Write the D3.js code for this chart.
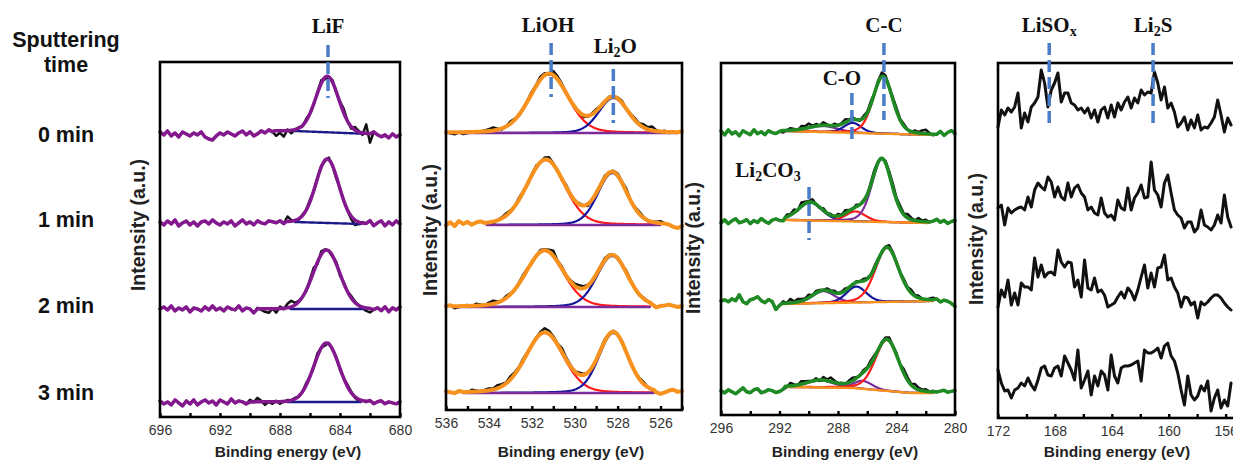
<!DOCTYPE html>
<html>
<head>
<meta charset="utf-8">
<script src="https://cdn.jsdelivr.net/npm/d3@7"></script>
<style>
  body { margin: 0; background: #fff; }
  svg { display: block; }
</style>
</head>
<body>
<div id="chart"></div>
<script>
// ---------- data ----------
const rowLabels = ["0 min", "1 min", "2 min", "3 min"];

// F 1s  (grid 696 -> 680, 0.25 eV)
const f1sTicks = [696, 694, 692, 690, 688, 686, 684, 682, 680];
const f1sTickLabels = [696, 692, 688, 684, 680];
const f1sBase = [283, 194, 108, 15];
const f1sPeaks = [
  [{c: 684.85, h: 56, w: 1.8}],
  [{c: 684.85, h: 64, w: 1.8}],
  [{c: 684.9, h: 59, w: 2.1}],
  [{c: 684.9, h: 59, w: 2.0}]
];
const f1sBg = [
  [[687.0, 3], [682.0, 0]],
  [[687.0, 1], [682.6, -1]],
  [[687.3, 0], [682.2, 0]],
  [[687.5, 0], [682.6, 0]]
];
const f1sWin = [[688.4, 682.0], [687.6, 682.4], [689.5, 682.0], [690.0, 682.2]];
const f1sNoise = [
  [2,-1,3,-2,1,-3,2,0,-2,1,-1,2,-3,-5,-6,-2, 1,-1,2,0,-2,1,3,-1,2,-2,0,3,1,4,2, -5,-2,-6,1,-3, 0,1,-1,2,0,-1,1,3,-2,0,2,-1,1,4,0,-2,3, 1,-2,9,-9,2,-1, -3,-1,-4,0,-3,-1],
  [1,-2,2,-1,3,-3,0,2,-2,1,-3,1,2,-1,3,0, -2,1,-1,2,-3,0,3,-1,1,-2,2,0,-1,2,1, 0,2,-1,5,1, 0,-1,1,0,2,-1,0,1,-1,2,0,-2,1,0,-1,-3,-5, -2,1,-1,2,-3,0, 2,-3,1,-2,2,-1],
  [0,2,-1,3,-2,1,-1,2,-3,1,0,-2,2,-1,3,-1, 1,-2,2,0,-1,3,-2,1,0,-4,1,-1,-3,-4,0, -4,2,-1,4,6, 2,1,0,-1,2,4,-2,3,1,0,-1,2,-2,1,0,2,1, 0,-1,-3,-4,-1,1, -2,2,-3,1,-1,2],
  [1,-2,0,-3,2,-1,-4,1,-2,2,-3,0,2,-1,1,-3, 2,0,-2,3,-1,1,0,-2,2,0,4,1,-3,0,-2, 1,-2,0,1,0, 1,-1,0,2,0,-1,3,0,-2,1,0,1,-1,0,2,1,-1, -2,0,-1,1,-2,0, 1,-2,0,-1,-2,0]
];

// O 1s  (grid 536 -> 525, 0.2 eV) : LiOH, Li2O
const o1sTicks = [536, 535, 534, 533, 532, 531, 530, 529, 528, 527, 526, 525];
const o1sTickLabels = [536, 534, 532, 530, 528, 526];
const o1sBase = [277, 185, 103, 17];
const o1sPeaks = [
  [{c: 531.2, h: 59, w: 2.1}, {c: 528.2, h: 35, w: 1.6}],
  [{c: 531.35, h: 65, w: 2.1}, {c: 528.25, h: 52, w: 1.6}],
  [{c: 531.4, h: 56, w: 2.1}, {c: 528.25, h: 51, w: 1.7}],
  [{c: 531.4, h: 60, w: 2.1}, {c: 528.2, h: 60, w: 1.6}]
];
const o1sBg = [
  [[535.8, 0], [525.2, 0]],
  [[534.1, 0], [526.0, 0]],
  [[535.7, 0], [526.5, 0]],
  [[535.2, 0], [526.3, 0]]
];
const o1sNoise = [
  [0,-1,-2,0,-2,-1,0,-1,0,1, 2,3,1,-1,0,2,1,-1,0,1, 2,1,3,2,-1,4,3,2,1,0, -1,0,-2,-1,1,2,0,-1,1,0, 1,2,0,1,2,1,3,2,4,1, 0,1,-1,0,0,1],
  [-1,2,-2,3,0,2,-1,1,2,0, -1,-2,0,1,2,1,0,2,1,-1, 1,2,0,2,3,1,0,-1,2,0, -1,1,0,-2,-1,0,1,2,0,1, 2,1,3,0,1,2,1,-1,0,1, 2,0,-1,-3,-4,-2],
  [0,1,-2,-1,0,1,-1,2,1,0, 2,3,1,0,2,1,-1,1,2,1, -1,0,2,1,2,5,1,2,0,1, 2,3,2,1,-1,0,1,2,1,0, 1,0,2,1,0,-1,1,0,-1,-3, -1,0,1,0,-1,0],
  [1,0,-1,1,0,-1,2,1,0,1, 2,1,3,2,1,3,2,1,2,1, 0,1,2,4,3,2,1,4,2,1, 0,2,1,0,-1,0,1,2,0,1, 0,1,0,-1,0,1,2,0,-1,-2, -3,-1,1,2,0,1]
];

// C 1s  (grid 296 -> 280, 0.25 eV)
const c1sTicks = [296, 294, 292, 290, 288, 286, 284, 282, 280];
const c1sTickLabels = [296, 292, 288, 284, 280];
const c1sBase = [282, 193, 114, 23];
const c1sPeaks = [
  [{c: 289.0, h: 6, w: 2.4}, {c: 287.0, h: 10, w: 1.4}, {c: 284.93, h: 57, w: 1.6}],
  [{c: 289.9, h: 18, w: 1.9}, {c: 286.8, h: 10, w: 1.6}, {c: 285.0, h: 63, w: 1.6}],
  [{c: 289.0, h: 12, w: 1.8}, {c: 286.75, h: 16, w: 1.6}, {c: 284.65, h: 54, w: 1.9}],
  [{c: 289.2, h: 7, w: 2.2}, {c: 286.3, h: 8, w: 1.5}, {c: 284.65, h: 51, w: 1.9}]
];
const c1sBg = [
  [[291.8, 2], [281.5, -2]],
  [[291.6, 2], [281.8, -1]],
  [[291.8, -3], [281.5, 0]],
  [[291.6, 5], [287.0, 4], [283.0, -1], [281.5, -1]]
];
const c1sNoise = [
  [2,-2,3,-1,1,-3,2,0,-2,3,-1,1,-2,2,0,-1, 1,-2,0,2,1,-1,3,2,4,1,2,0,3,1,-1, 2,0,1,3,1,2,0,-1,2,1,3,0,2,4,3,1,2, 3,1,2,0,-1,2,1,3,4,1,-1, -2,1,-3,0,2,-1],
  [-1,2,-2,1,3,-1,0,2,-2,1,-1,3,0,-2,1,2, 0,-1,2,1,3,-1,4,2,1,3,0,-1,2,0,1, -1,2,0,3,1,-1,2,0,1,-1,2,3,1,0,2,3,4, 2,3,1,4,2,0,3,1,2,-1,0, 2,-1,1,-2,0,1],
  [0,1,-1,2,0,6,-1,-3,1,2,4,0,-2,1,-1,-9, -5,2,0,4,1,3,2,1,3,0,2,1,0,2,1, 2,0,1,2,0,-1,1,0,2,1,0,2,1,0,1,3,2, 1,0,2,1,3,1,2,0,-1,1,2, 1,-2,0,-1,-3,-6],
  [1,-1,2,0,-2,1,4,0,-1,2,3,-1,0,2,1,-1, 0,2,-1,3,1,0,3,2,1,0,2,-1,3,1,4, 2,0,1,-1,2,3,1,0,2,1,3,2,0,1,2,3,1, 2,0,4,3,1,4,2,1,2,0,1, -1,0,1,-1,0,1]
];

// S 2p  (grid 172 -> 155.6, 0.234 eV), raw counts only
const s2pTicks = [172, 170, 168, 166, 164, 162, 160, 158, 156];
const s2pTickLabels = [172, 168, 164, 160, 156];
const s2pBase = [278, 178, 88, 0];
const s2pCounts = [
  [13,30,25,32,28,33,47,12,27,18,33,37,43,70,57,33,50,57,67,38,47,47,37,35,30,32,27,32,22,30,18,30,33,22,35,23,37,30,38,43,32,42,37,50,45,48,47,68,57,40,53,32,37,28,13,17,23,10,20,12,25,10,13,12,17,23,40,25,8,22,15],
  [32,35,15,32,27,30,32,33,30,43,33,50,57,53,50,63,58,43,53,43,40,57,43,52,55,47,43,30,33,27,25,42,27,23,25,20,40,32,30,52,30,42,47,55,42,43,78,50,45,33,57,65,47,30,25,22,12,18,18,8,12,30,15,13,10,15,25,17,45,23,13],
  [23,40,33,50,25,37,25,47,43,43,40,72,53,65,53,57,58,55,80,68,63,68,67,43,50,33,70,42,40,52,38,40,35,23,25,27,33,38,32,42,38,30,40,53,65,42,57,43,62,63,75,50,52,43,37,23,33,32,25,28,12,28,25,28,32,35,35,32,27,23,20],
  [48,35,27,28,20,28,30,35,32,40,33,28,38,50,52,43,42,50,52,42,62,55,48,38,68,30,38,47,23,42,32,47,43,28,63,42,35,50,52,52,53,55,57,37,68,65,65,67,70,60,72,75,62,57,45,28,13,42,23,18,22,32,27,37,7,20,28,10,18,12,35]
];

// peak assignments (label, energy, panel)
const markerNames = ["LiF", "LiOH", "Li2O", "C-C", "C-O", "Li2CO3", "LiSOx", "Li2S"];
const markerEnergies = [684.8, 531.1, 528.2, 284.86, 287.05, 289.98, 168.4, 161.1];
const markerPanel = [0, 1, 1, 2, 2, 2, 3, 3];

// ---------- layout / style ----------
const frames = [
  {left: 160, right: 400, top: 62, bottom: 417, ylab: [145, 225], xlab: 288},
  {left: 446, right: 682, top: 63, bottom: 410, ylab: [437, 230], xlab: 571},
  {left: 721, right: 955, top: 63, bottom: 415, ylab: [700, 248], xlab: 845},
  {left: 998, right: 1237, top: 63, bottom: 418, ylab: [983, 239], xlab: 1117}
];
const markerLayout = [
  {y1: 45, y2: 98, ty: 33, dx: 0},
  {y1: 43, y2: 97, ty: 32, dx: -3},
  {y1: 69, y2: 123, ty: 53, dx: 2},
  {y1: 43, y2: 120, ty: 32, dx: 0},
  {y1: 93, y2: 143, ty: 85, dx: -10},
  {y1: 187, y2: 240, ty: 177, dx: -41},
  {y1: 43, y2: 127, ty: 32, dx: 0},
  {y1: 43, y2: 127, ty: 32, dx: 0}
];
const rowLabelY = [142, 227, 313, 400];

const PURPLE = "#7d2a9b", RED = "#ff1a1a", BLUE = "#14149c", ORANGE = "#f7921e";
const SANS = "Arial, 'Liberation Sans', sans-serif";
const SERIF = "'Times New Roman', 'Liberation Serif', serif";

const panels = [
  {domain: [696, 680], step: 0.25, ticks: f1sTicks, labels: f1sTickLabels, base: f1sBase, peaks: f1sPeaks,
   bg: f1sBg, win: f1sWin, noise: f1sNoise, eta: 0.05, env: "#84188f", envW: 3.5, bgColor: "#1b1b8a",
   comps: null},
  {domain: [536, 525], step: 0.2, ticks: o1sTicks, labels: o1sTickLabels, base: o1sBase, peaks: o1sPeaks,
   bg: o1sBg, noise: o1sNoise, eta: 0.2, env: ORANGE, envW: 4, bgColor: PURPLE,
   comps: [[RED, BLUE], [RED, BLUE], [RED, BLUE], [RED, BLUE]]},
  {domain: [296, 280], step: 0.25, ticks: c1sTicks, labels: c1sTickLabels, base: c1sBase, peaks: c1sPeaks,
   bg: c1sBg, noise: c1sNoise, eta: 0.25, env: "#1f8b24", envW: 3.5, bgColor: ORANGE,
   comps: [[PURPLE, BLUE, RED], [BLUE, RED, PURPLE], [PURPLE, BLUE, RED], [PURPLE, PURPLE, RED]]},
  {domain: [172, 155.2], step: 0.234, ticks: s2pTicks, labels: s2pTickLabels, base: s2pBase, counts: s2pCounts}
];

// pseudo-Voigt line shape of a fitted component
const pv = (e, pk, eta) => {
  const s = pk.w / 2.3548, d = e - pk.c;
  return pk.h * ((1 - eta) * Math.exp(-d * d / (2 * s * s)) + eta / (1 + 4 * d * d / (pk.w * pk.w)));
};

const svg = d3.select("#chart").append("svg")
  .attr("width", 1233)
  .attr("height", 463);

// left column
svg.append("text").attr("x", 66).attr("y", 47).text("Sputtering");
svg.append("text").attr("x", 66).attr("y", 72).text("time");
rowLabels.forEach((t, i) => svg.append("text").attr("x", 66).attr("y", rowLabelY[i]).text(t));
svg.selectAll("text")
  .attr("text-anchor", "middle")
  .attr("font-family", SANS)
  .attr("font-weight", "bold")
  .attr("font-size", 21.5)
  .attr("fill", "#111");

const scales = [];

panels.forEach((p, pi) => {
  const f = frames[pi];
  const x = d3.scaleLinear().domain(p.domain).range([f.left, f.right]);
  const y = d3.scaleLinear().domain([0, f.bottom - f.top]).range([f.bottom, f.top]);
  scales.push(x);
  const line = d3.line().x(d => x(d[0])).y(d => y(d[1]));
  const g = svg.append("g");

  const stroke = (path, color, w) => path.attr("fill", "none").attr("stroke", color)
    .attr("stroke-width", w).attr("stroke-linejoin", "round").attr("stroke-linecap", "round");

  p.base.forEach((base, r) => {
    if (p.counts) {
      const pts = p.counts[r].map((v, i) => [p.domain[0] - p.step * i, base + v]);
      stroke(g.append("path").attr("d", line(pts)), "#111", 3);
      return;
    }
    const bgPts = p.bg[r];
    const bg = d3.scaleLinear().domain(bgPts.map(d => d[0])).range(bgPts.map(d => d[1])).clamp(true);
    const [wHi, wLo] = p.win ? p.win[r] : [bgPts[0][0], bgPts[bgPts.length - 1][0]];
    const inWin = e => e <= wHi + 1e-9 && e >= wLo - 1e-9;
    const sum = e => d3.sum(p.peaks[r], pk => pv(e, pk, p.eta));

    const raw = p.noise[r].map((n, i) => {
      const e = p.domain[0] - p.step * i;
      return [e, base + (inWin(e) ? bg(e) : 0) + sum(e) + n];
    });
    const fine = d3.range(wHi, wLo - 1e-6, -0.04);
    const env = raw.filter(d => d[0] > wHi + 1e-9)
      .concat(fine.map(e => [e, base + bg(e) + sum(e)]))
      .concat(raw.filter(d => d[0] < wLo - 1e-9));

    const bgFine = d3.range(bgPts[0][0], bgPts[bgPts.length - 1][0] - 1e-6, -0.04);

    stroke(g.append("path").attr("d", line(raw)), "#111", 2.5);
    if (p.comps) {
      p.peaks[r].forEach((pk, k) => {
        stroke(g.append("path").attr("d", line(bgFine.map(e => [e, base + bg(e) + pv(e, pk, p.eta)]))),
          p.comps[r][k], 2.2);
      });
    }
    stroke(g.append("path").attr("d", line(bgFine.map(e => [e, base + bg(e)]))), p.bgColor, 2.4);
    stroke(g.append("path").attr("d", line(env)), p.env, p.envW);
  });

  // frame
  g.append("rect")
    .attr("x", f.left).attr("y", f.top)
    .attr("width", f.right - f.left).attr("height", f.bottom - f.top)
    .attr("fill", "none").attr("stroke", "#000").attr("stroke-width", 2.6);

  // bottom axis, inward ticks
  const axis = d3.axisBottom(x)
    .tickValues(p.ticks)
    .tickSize(-4)
    .tickPadding(8)
    .tickFormat(d => p.labels.includes(d) ? d : "");
  g.append("g")
    .attr("transform", `translate(0,${f.bottom})`)
    .call(axis)
    .call(a => a.select(".domain").remove())
    .call(a => a.selectAll("line").attr("stroke", "#000").attr("stroke-width", 2.4))
    .call(a => a.selectAll("text").attr("font-family", SANS).attr("font-size", 14).attr("fill", "#333"));

  g.append("text")
    .attr("x", f.xlab).attr("y", 457)
    .attr("text-anchor", "middle")
    .attr("font-family", SANS).attr("font-weight", "bold").attr("font-size", 15.5).attr("fill", "#222")
    .text("Binding energy (eV)");

  g.append("text")
    .attr("transform", `translate(${f.ylab[0]},${f.ylab[1]}) rotate(-90)`)
    .attr("text-anchor", "middle")
    .attr("font-family", SANS).attr("font-weight", "bold").attr("font-size", 19.5).attr("fill", "#222")
    .text("Intensity (a.u.)");
});

// peak markers and chemical labels
markerNames.forEach((name, i) => {
  const x = scales[markerPanel[i]](markerEnergies[i]);
  const L = markerLayout[i];
  svg.append("line")
    .attr("x1", x).attr("x2", x).attr("y1", L.y1).attr("y2", L.y2)
    .attr("stroke", "#4a7cc9").attr("stroke-width", 3.5).attr("stroke-dasharray", "12,5");
  const t = svg.append("text")
    .attr("x", x + L.dx).attr("y", L.ty)
    .attr("text-anchor", "middle")
    .attr("font-family", SERIF).attr("font-weight", "bold").attr("font-size", 21).attr("fill", "#111");
  let low = false;
  name.split(/(\d+|x$)/).filter(s => s).forEach(s => {
    const sub = /^(\d+|x)$/.test(s);
    t.append("tspan")
      .attr("font-size", sub ? 14 : 21)
      .attr("dy", sub === low ? 0 : (sub ? 4 : -4))
      .text(s);
    low = sub;
  });
});
</script>
</body>
</html>
